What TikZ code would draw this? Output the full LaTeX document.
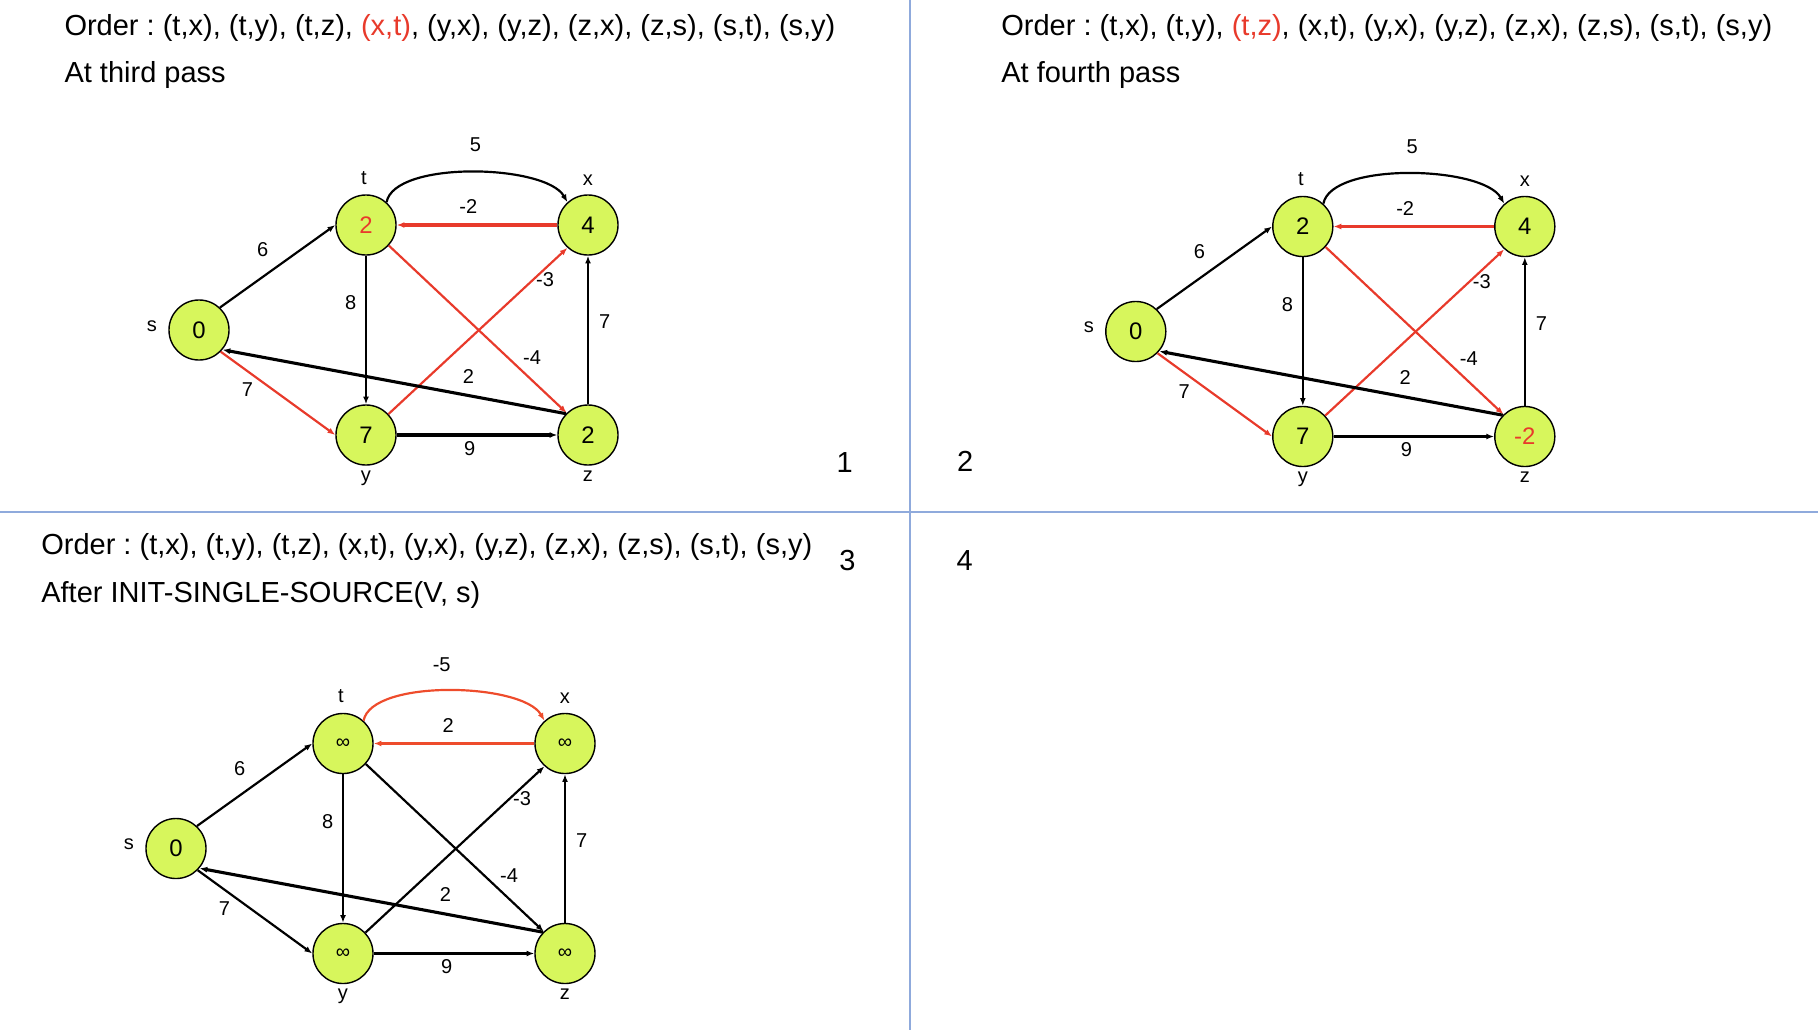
\documentclass[tikz,border=0pt]{standalone}
\usepackage{fontspec}
\setmainfont{Liberation Sans}
\usetikzlibrary{arrows.meta}
\definecolor{vertexfill}{HTML}{D7F65C}
\definecolor{relaxred}{HTML}{E83A2B}
\definecolor{initred}{HTML}{EE4C2C}
\definecolor{panelline}{HTML}{8FAADC}
\newcommand{\infval}{{\fontsize{5.7}{7}\selectfont ∞}}
\frenchspacing

\begin{document}
\begin{tikzpicture}[x=0.01cm, y=-0.01cm,
    vertex/.style={circle, draw, line width=0.4pt, fill=vertexfill, minimum size=0.6cm, inner sep=0pt, font=\fontsize{6.8}{8}\selectfont},
    vname/.style={inner sep=0pt, font=\fontsize{5.7}{7}\selectfont},
    weight/.style={inner sep=0pt, font=\fontsize{5.7}{7}\selectfont},
    heading/.style={anchor=base west, inner sep=0pt, font=\fontsize{8.25}{10}\selectfont},
    link/.style={-{Latex[length=2.2pt,width=1.7pt]}, line width=0.62pt},
    link thin/.style={link, line width=0.48pt},
    link thick/.style={link, line width=0.88pt}]
    \useasboundingbox (0,0) rectangle (1818,1030);
    \draw[panelline, line width=0.6pt] (910,0) -- (910,1030);
    \draw[panelline, line width=0.6pt] (0,512) -- (1818,512);

    % third pass
    \node[heading] (order1) at (63.8,35) {Order : (t,x), (t,y), (t,z), \textcolor{relaxred}{(x,t)}, (y,x), (y,z), (z,x), (z,s), (s,t), (s,y)};
    \node[heading] (pass1) at (63.8,82.7) {At third pass};
    \node[heading, anchor=base] (num1) at (844.6,472.7) {1};
    \begin{scope}
        \node[vertex] (t1) at (366,225) {\textcolor{relaxred}{2}};
        \node[vertex] (x1) at (588,225) {4};
        \node[vertex] (s1) at (199,330) {0};
        \node[vertex] (y1) at (366,435) {7};
        \node[vertex] (z1) at (588,435) {2};
        \node[vname] (tn1) at (364,178) {t};
        \node[vname] (xn1) at (588,180) {x};
        \node[vname] (sn1) at (152,326) {s};
        \node[vname] (yn1) at (366,478) {y};
        \node[vname] (zn1) at (588,476) {z};
        \draw[link] (s1.47) -- (t1.west);
        \draw[link thin] (t1.south) -- (y1.north);
        \draw[link] (t1.48) .. controls +(8,-42) and +(-22,-38) .. (x1.132);
        \draw[link thick, relaxred] (x1.west) -- (t1.east);
        \draw[link, relaxred] (t1.-42) -- (z1.134);
        \draw[link, relaxred] (y1.43) -- (x1.228);
        \draw[link, relaxred] (s1.-45) -- (y1.west);
        \draw[link thick] (z1.136) -- (s1.-40);
        \draw[link thick] (y1.east) -- (z1.west);
        \draw[link thin] (z1.north) -- (x1.south);
        \node[weight] (wtx1) at (475.4,145) {5};
        \node[weight] (wxt1) at (468.4,206.7) {-2};
        \node[weight] (wst1) at (262.6,250) {6};
        \node[weight] (wty1) at (350.7,302.7) {8};
        \node[weight] (wyx1) at (545,280) {-3};
        \node[weight] (wzx1) at (604.6,321.7) {7};
        \node[weight] (wtz1) at (532,357.3) {-4};
        \node[weight] (wzs1) at (468.4,376) {2};
        \node[weight] (wsy1) at (247.5,390) {7};
        \node[weight] (wyz1) at (469.6,448.3) {9};
    \end{scope}

    % fourth pass
    \node[heading] (order2) at (1000.6,35) {Order : (t,x), (t,y), \textcolor{relaxred}{(t,z)}, (x,t), (y,x), (y,z), (z,x), (z,s), (s,t), (s,y)};
    \node[heading] (pass2) at (1000.6,82.7) {At fourth pass};
    \node[heading, anchor=base] (num2) at (965.2,471.7) {2};
    \begin{scope}[shift={(936.8,1.5)}]
        \node[vertex] (t2) at (366,225) {2};
        \node[vertex] (x2) at (588,225) {4};
        \node[vertex] (s2) at (199,330) {0};
        \node[vertex] (y2) at (366,435) {7};
        \node[vertex] (z2) at (588,435) {\textcolor{relaxred}{-2}};
        \node[vname] (tn2) at (364,178) {t};
        \node[vname] (xn2) at (588,180) {x};
        \node[vname] (sn2) at (152,326) {s};
        \node[vname] (yn2) at (366,478) {y};
        \node[vname] (zn2) at (588,476) {z};
        \draw[link] (s2.47) -- (t2.west);
        \draw[link thin] (t2.south) -- (y2.north);
        \draw[link] (t2.48) .. controls +(8,-42) and +(-22,-38) .. (x2.132);
        \draw[link thick, relaxred] (x2.west) -- (t2.east);
        \draw[link, relaxred] (t2.-42) -- (z2.134);
        \draw[link, relaxred] (y2.43) -- (x2.228);
        \draw[link, relaxred] (s2.-45) -- (y2.west);
        \draw[link thick] (z2.136) -- (s2.-40);
        \draw[link thick] (y2.east) -- (z2.west);
        \draw[link thin] (z2.north) -- (x2.south);
        \node[weight] (wtx2) at (475.4,145) {5};
        \node[weight] (wxt2) at (468.4,206.7) {-2};
        \node[weight] (wst2) at (262.6,250) {6};
        \node[weight] (wty2) at (350.7,302.7) {8};
        \node[weight] (wyx2) at (545,280) {-3};
        \node[weight] (wzx2) at (604.6,321.7) {7};
        \node[weight] (wtz2) at (532,357.3) {-4};
        \node[weight] (wzs2) at (468.4,376) {2};
        \node[weight] (wsy2) at (247.5,390) {7};
        \node[weight] (wyz2) at (469.6,448.3) {9};
    \end{scope}

    % after init
    \node[heading] (order3) at (40.6,554.3) {Order : (t,x), (t,y), (t,z), (x,t), (y,x), (y,z), (z,x), (z,s), (s,t), (s,y)};
    \node[heading] (pass3) at (40.6,602.3) {After INIT-SINGLE-SOURCE(V, s)};
    \node[heading, anchor=base] (num3) at (847.5,570) {3};
    \node[heading, anchor=base] (num4) at (964.6,570) {4};
    \begin{scope}[shift={(-23,518.5)}]
        \node[vertex] (t3) at (366,225) {\infval};
        \node[vertex] (x3) at (588,225) {\infval};
        \node[vertex] (s3) at (199,330) {0};
        \node[vertex] (y3) at (366,435) {\infval};
        \node[vertex] (z3) at (588,435) {\infval};
        \node[vname] (tn3) at (364,178) {t};
        \node[vname] (xn3) at (588,180) {x};
        \node[vname] (sn3) at (152,326) {s};
        \node[vname] (yn3) at (366,478) {y};
        \node[vname] (zn3) at (588,476) {z};
        \draw[link] (s3.47) -- (t3.west);
        \draw[link thin] (t3.south) -- (y3.north);
        \draw[link, initred] (t3.48) .. controls +(8,-42) and +(-22,-38) .. (x3.132);
        \draw[link thick, initred] (x3.west) -- (t3.east);
        \draw[link] (t3.-42) -- (z3.134);
        \draw[link] (y3.43) -- (x3.228);
        \draw[link] (s3.-45) -- (y3.west);
        \draw[link thick] (z3.136) -- (s3.-40);
        \draw[link thick] (y3.east) -- (z3.west);
        \draw[link thin] (z3.north) -- (x3.south);
        \node[weight] (wtx3) at (464.7,146.5) {-5};
        \node[weight] (wxt3) at (471.1,207.2) {2};
        \node[weight] (wst3) at (262.6,250) {6};
        \node[weight] (wty3) at (350.7,302.7) {8};
        \node[weight] (wyx3) at (545,280) {-3};
        \node[weight] (wzx3) at (604.6,321.7) {7};
        \node[weight] (wtz3) at (532,357.3) {-4};
        \node[weight] (wzs3) at (468.4,376) {2};
        \node[weight] (wsy3) at (247.5,390) {7};
        \node[weight] (wyz3) at (469.6,448.3) {9};
    \end{scope}
\end{tikzpicture}
\end{document}
